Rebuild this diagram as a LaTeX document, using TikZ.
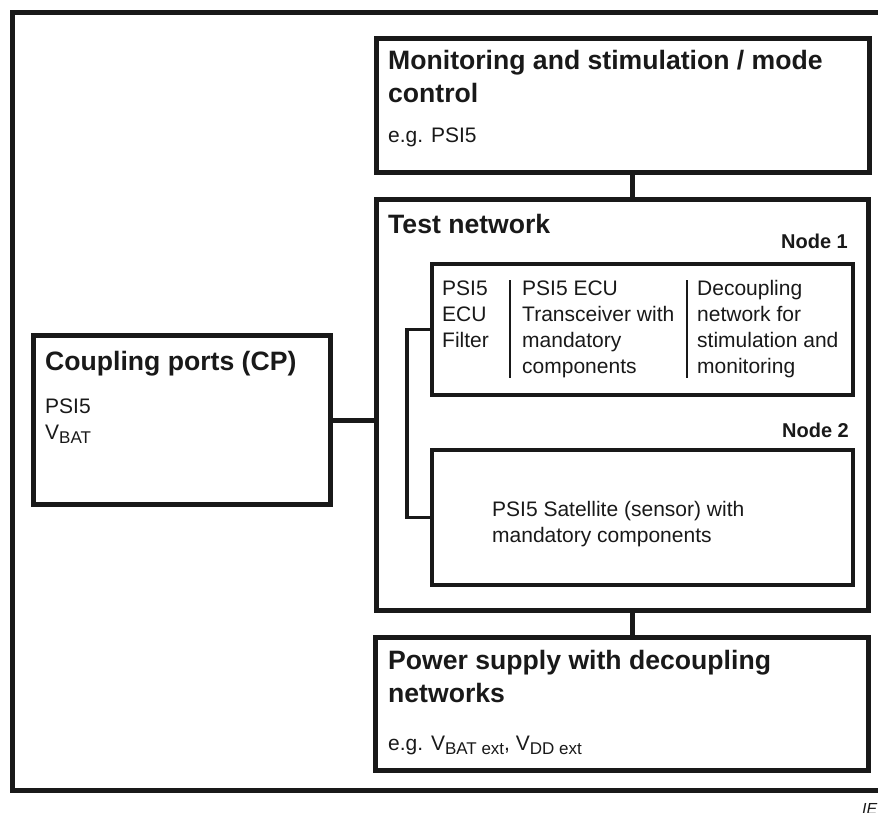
\documentclass[tikz,border=0pt]{standalone}
\usepackage{fontspec}
\setmainfont{Liberation Sans}
\newcommand{\mysub}[1]{\raisebox{-0.4ex}{\fontsize{17}{17}\selectfont #1}}
\tikzset{
  box/.style={draw=black!90, line width=5pt, inner sep=0pt, anchor=north west},
  nodebox/.style={draw=black!90, line width=4pt, inner sep=0pt, anchor=north west},
  conn/.style={draw=black!90, line width=5pt},
  busline/.style={draw=black!90, line width=3.5pt},
  divider/.style={draw=black!90, line width=2pt},
  ttl/.style={font=\fontsize{26.6}{33}\selectfont\bfseries, anchor=base west, inner sep=0pt, align=left, text=black!90},
  nlbl/.style={font=\fontsize{20}{24}\selectfont\bfseries, anchor=base east, inner sep=0pt, text=black!90},
  txt/.style={font=\fontsize{21}{26}\selectfont, anchor=base west, inner sep=0pt, align=left, text=black!90},
}
\begin{document}
\begin{tikzpicture}[x=1pt,y=-1pt]
\useasboundingbox (0,0) rectangle (878,812);
% outer frame (extends past right edge)
\draw[draw=black!90, line width=5pt] (900,12) -- (12,12) -- (12,790) -- (900,790);
% boxes
\node[box, minimum width=493pt, minimum height=134pt] (mon) at (374,36) {};
\node[box, minimum width=492pt, minimum height=411pt] (test) at (374,197) {};
\node[box, minimum width=297pt, minimum height=169pt] (cp) at (31,333) {};
\node[box, minimum width=493pt, minimum height=133pt] (pwr) at (373,635) {};
\node[nodebox, minimum width=421pt, minimum height=131pt] (n1) at (430,262) {};
\node[nodebox, minimum width=421pt, minimum height=135pt] (n2) at (430,448) {};
% coordinates for connectors
\coordinate (vx) at (632,0);
\coordinate (bx) at (407,0);
\coordinate (d1t) at (510,280);
\coordinate (d1b) at (510,378);
\coordinate (d2t) at (687,280);
\coordinate (d2b) at (687,378);
% connectors
\draw[conn] (mon.south -| vx) -- (test.north -| vx);
\draw[conn] (test.south -| vx) -- (pwr.north -| vx);
\draw[conn] (cp.east) -- (cp.east -| test.west);
\draw[busline] (n1.west) -- (n1.west -| bx) -- (n2.west -| bx) -- (n2.west);
\draw[divider] (d1t) -- (d1b);
\draw[divider] (d2t) -- (d2b);
% texts (base anchor = baseline of the last line)
\node[ttl] (tmon) at (388,102) {Monitoring and stimulation / mode\\control};
\node[txt] (emon) at (388,142) {e.g. PSI5};
\node[ttl] (ttest) at (388,233) {Test network};
\node[nlbl] (ln1) at (848,248) {Node 1};
\node[nlbl] (ln2) at (849,437) {Node 2};
\node[txt] (c1) at (442,347) {PSI5\\ECU\\Filter};
\node[txt] (c2) at (522,373) {PSI5 ECU\\Transceiver with\\mandatory\\components};
\node[txt] (c3) at (697,373) {Decoupling\\network for\\stimulation and\\monitoring};
\node[txt] (sat) at (492,542) {PSI5 Satellite (sensor) with\\mandatory components};
\node[ttl] (tcp) at (45,370) {Coupling ports (CP)};
\node[txt] (ecp) at (45,439) {PSI5\\V\mysub{BAT}};
\node[ttl] (tpwr) at (388,702) {Power supply with decoupling\\networks};
\node[txt] (epwr) at (388,750) {e.g. V\mysub{BAT ext}, V\mysub{DD ext}};
\node[font=\fontsize{16}{16}\selectfont\itshape, anchor=base west, inner sep=0pt, text=black!90] (iec) at (862,814) {IEC};
\end{tikzpicture}
\end{document}
